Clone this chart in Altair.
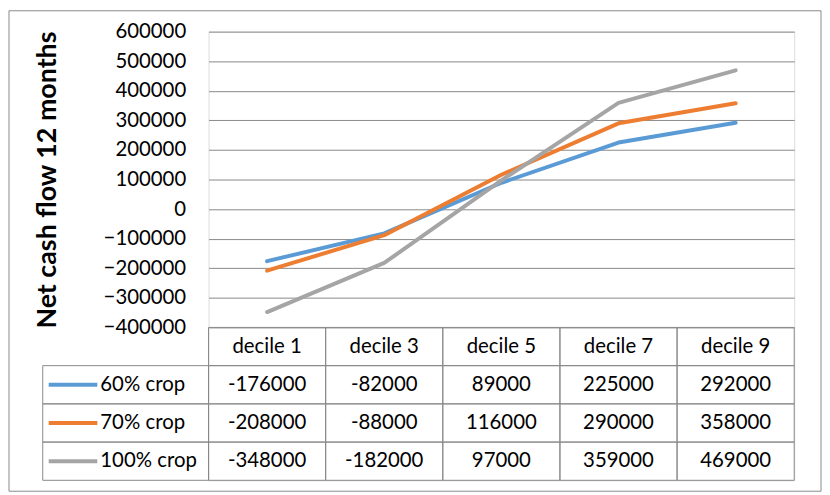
import altair as alt
import pandas as pd

deciles = ["decile 1", "decile 3", "decile 5", "decile 7", "decile 9"]
series = ["60% crop", "70% crop", "100% crop"]
colors = ["#5B9BD5", "#ED7D31", "#A5A5A5"]
crop60 = [-176000, -82000, 89000, 225000, 292000]
crop70 = [-208000, -88000, 116000, 290000, 358000]
crop100 = [-348000, -182000, 97000, 359000, 469000]
y_ticks = [-400000, -300000, -200000, -100000, 0, 100000, 200000, 300000, 400000, 500000, 600000]

FONT = "Lato"
GRID = "#898989"

values = {"60% crop": crop60, "70% crop": crop70, "100% crop": crop100}
rows_long = []
for s in series:
    for d, v in zip(deciles, values[s]):
        rows_long.append({"decile": d, "series": s, "value": v})
df = pd.DataFrame(rows_long)

color = alt.Color("series:N", scale=alt.Scale(domain=series, range=colors), legend=None)

top = alt.Chart(df).mark_line(strokeWidth=4, strokeCap="round", strokeJoin="round").encode(
    x=alt.X("decile:N", sort=deciles, scale=alt.Scale(type="point", domain=deciles, padding=0.5), axis=None),
    y=alt.Y("value:Q",
            scale=alt.Scale(domain=[-400000, 600000], nice=False, zero=False),
            axis=alt.Axis(values=y_ticks, format="d", grid=True, gridColor=GRID, gridWidth=1,
                          domain=False, ticks=False, labelFont=FONT, labelFontSize=20.5,
                          labelColor="#000000", labelPadding=23,
                          title="Net cash flow 12 months", titleFont=FONT, titleFontSize=27,
                          titleFontWeight="bold", titleColor="#000000", titlePadding=42)),
    color=color,
).properties(width=590, height=298)

# table data
rows = ["header"] + series
cells = []
for i, d in enumerate(deciles):
    cells.append({"cat": d, "row": "header", "label": d})
    for s in series:
        cells.append({"cat": d, "row": s, "label": str(values[s][i])})
cells_df = pd.DataFrame(cells)
labels_df = pd.DataFrame({"row": series, "series": series})
border_df = pd.DataFrame({"k": [0]})

tx = alt.X("cat:N", sort=deciles, scale=alt.Scale(type="band", domain=deciles, paddingInner=0, paddingOuter=0), axis=None)
ty = alt.Y("row:N", sort=rows, scale=alt.Scale(type="band", domain=rows, paddingInner=0, paddingOuter=0), axis=None)

cell_rects = alt.Chart(cells_df).mark_rect(fillOpacity=0, stroke=GRID, strokeWidth=1).encode(x=tx, y=ty)
cell_text = alt.Chart(cells_df).mark_text(font=FONT, fontSize=20.5, color="#000000").encode(x=tx, y=ty, text="label:N")
left_rects = alt.Chart(labels_df).mark_rect(fillOpacity=0, stroke=GRID, strokeWidth=1).encode(
    x=alt.value(-167), x2=alt.value(0), y=ty)
left_text = alt.Chart(labels_df).mark_text(font=FONT, fontSize=20.5, color="#000000", align="left").encode(
    x=alt.value(-109), y=ty, text="series:N")
keys = alt.Chart(labels_df).mark_rule(strokeWidth=4).encode(
    x=alt.value(-161), x2=alt.value(-112), y=ty, color=color)
outer = alt.Chart(border_df).mark_rect(fillOpacity=0, stroke=GRID, strokeWidth=1).encode(
    x=alt.value(-201), x2=alt.value(617), y=alt.value(-319), y2=alt.value(165))

bottom = alt.layer(outer, cell_rects, left_rects, keys, left_text, cell_text).properties(width=590, height=154)

chart = alt.vconcat(top, bottom, spacing=0, bounds="flush", padding=0).configure_view(strokeWidth=0).configure(background="white")

chart.save("out.html", embed_options={"renderer": "svg", "actions": False})
